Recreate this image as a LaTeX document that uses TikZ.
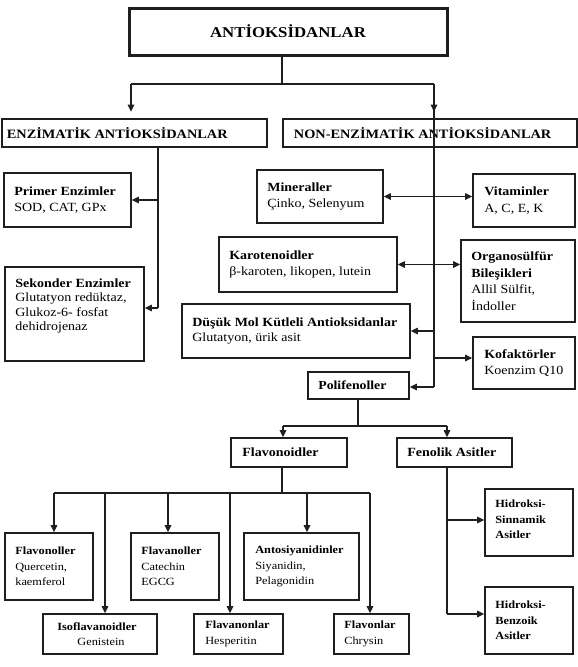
\documentclass[tikz,border=0pt]{standalone}
\usepackage{fontspec}
\setmainfont{Liberation Serif}[FakeStretch=1.12]
\usetikzlibrary{arrows.meta}
\newcommand\mybox[6][]{%
  \pgfmathsetmacro\bw{#5-#3}\pgfmathsetmacro\bh{#6-#4}%
  \node[box,#1,minimum width=\bw pt,minimum height=\bh pt] (#2) at ({(#3+#5)/2},{(#4+#6)/2}) {};}
\tikzset{
  box/.style={draw=black!88, line width=1.7pt, inner sep=0pt},
  heavybox/.style={line width=3pt},
  headbox/.style={line width=2.6pt},
  txt/.style={align=left, inner sep=0pt, font=\fontsize{12.5}{16.5}\selectfont},
  small/.style={font=\fontsize{11}{15.5}\selectfont},
  ln/.style={draw=black!88, line width=1.2pt},
  arr/.style={ln, -{Triangle[length=7pt,width=6.5pt]}},
  darr/.style={ln, {Triangle[length=7pt,width=6.5pt]}-{Triangle[length=7pt,width=6.5pt]}},
}
\begin{document}
\begin{tikzpicture}[x=1pt,y=-1pt]
\useasboundingbox (0,0) rectangle (578,667);
% ---- boxes ----
\mybox[heavybox]{title}{129}{8}{447}{55}
\mybox[headbox]{enz}{2}{119}{267}{147}
\mybox[headbox]{nonenz}{283}{119}{577}{147}
\mybox{primer}{4}{173}{131}{227}
\mybox{sekonder}{5}{267}{144}{361}
\mybox{mineral}{257}{170}{383}{223}
\mybox{vitamin}{473}{174}{575}{227}
\mybox{karot}{219}{237}{397}{292}
\mybox{organo}{461}{240}{575}{322}
\mybox{dusuk}{182}{304}{410}{358}
\mybox{kofak}{473}{337}{575}{389}
\mybox{polif}{308}{372}{409}{399}
\mybox{flavd}{231}{438}{347}{467}
\mybox{fenol}{397}{438}{512}{467}
\mybox{flavonol}{5}{533}{93}{600}
\mybox{isofl}{43}{614}{157}{654}
\mybox{flavanol}{131}{533}{219}{600}
\mybox{flavanon}{194}{614}{283}{654}
\mybox{antosi}{244}{533}{359}{600}
\mybox{flavon}{334}{614}{409}{654}
\mybox{hidS}{485}{489}{573}{556}
\mybox{hidB}{485}{587}{573}{654}
% ---- texts ----
\node[txt, font=\fontsize{15}{18}\selectfont\bfseries] (title-t) at (title) {ANTİOKSİDANLAR};
\node[txt, anchor=west, font=\fontsize{12.8}{16}\selectfont\bfseries] (enz-t) at ([xshift=6pt]enz.west) {ENZİMATİK ANTİOKSİDANLAR};
\node[txt, anchor=west, font=\fontsize{12.8}{16}\selectfont\bfseries] (nonenz-t) at ([xshift=12pt]nonenz.west) {NON-ENZİMATİK ANTİOKSİDANLAR};
\node[txt, anchor=west] (primer-t) at ([xshift=11pt]primer.west) {\textbf{Primer Enzimler}\\SOD, CAT, GPx};
\node[txt, anchor=west, font=\fontsize{12.5}{14.3}\selectfont] (sekonder-t) at ([xshift=11pt,yshift=8pt]sekonder.west) {\textbf{Sekonder Enzimler}\\Glutatyon redüktaz,\\Glukoz-6- fosfat\\dehidrojenaz};
\node[txt, anchor=west] (mineral-t) at ([xshift=11pt]mineral.west) {\textbf{Mineraller}\\Çinko, Selenyum};
\node[txt, anchor=west] (vitamin-t) at ([xshift=12pt]vitamin.west) {\textbf{Vitaminler}\\A, C, E, K};
\node[txt, anchor=west] (karot-t) at ([xshift=11pt]karot.west) {\textbf{Karotenoidler}\\β-karoten, likopen, lutein};
\node[txt, anchor=west] (organo-t) at ([xshift=11pt]organo.west) {\textbf{Organosülfür}\\\textbf{Bileşikleri}\\Allil Sülfit,\\İndoller};
\node[txt, anchor=west, font=\fontsize{12.5}{15.3}\selectfont] (dusuk-t) at ([xshift=11pt]dusuk.west) {\textbf{Düşük Mol Kütleli Antioksidanlar}\\Glutatyon, ürik asit};
\node[txt, anchor=west] (kofak-t) at ([xshift=12pt]kofak.west) {\textbf{Kofaktörler}\\Koenzim Q10};
\node[txt, anchor=west, font=\fontsize{12.3}{15}\selectfont\bfseries] (polif-t) at ([xshift=11pt]polif.west) {Polifenoller};
\node[txt, anchor=west, font=\fontsize{12.5}{15}\selectfont\bfseries] (flavd-t) at ([xshift=12pt]flavd.west) {Flavonoidler};
\node[txt, anchor=west, font=\fontsize{12.5}{15}\selectfont\bfseries] (fenol-t) at ([xshift=11pt]fenol.west) {Fenolik Asitler};
\node[txt, small, anchor=west] (flavonol-t) at ([xshift=11pt]flavonol.west) {\textbf{Flavonoller}\\Quercetin,\\kaemferol};
\node[txt, small, align=center] (isofl-t) at ([xshift=-3pt]isofl.center) {\textbf{Isoflavanoidler}\\\hspace*{8pt}Genistein};
\node[txt, small, anchor=west] (flavanol-t) at ([xshift=11pt]flavanol.west) {\textbf{Flavanoller}\\Catechin\\EGCG};
\node[txt, small, anchor=west] (flavanon-t) at ([xshift=12pt]flavanon.west) {\textbf{Flavanonlar}\\Hesperitin};
\node[txt, small, anchor=west] (antosi-t) at ([xshift=12pt]antosi.west) {\textbf{Antosiyanidinler}\\Siyanidin,\\Pelagonidin};
\node[txt, small, anchor=west] (flavon-t) at ([xshift=11pt]flavon.west) {\textbf{Flavonlar}\\Chrysin};
\node[txt, small, anchor=west] (hidS-t) at ([xshift=11pt,yshift=3pt]hidS.west) {\textbf{Hidroksi-}\\\textbf{Sinnamik}\\\textbf{Asitler}};
\node[txt, small, anchor=west] (hidB-t) at ([xshift=11pt]hidB.west) {\textbf{Hidroksi-}\\\textbf{Benzoik}\\\textbf{Asitler}};
% ---- connectors ----
\coordinate (t0) at (282,84);
\coordinate (tl) at (131,84);
\coordinate (tr) at (434,84);
\coordinate (nb) at (434,387);
\coordinate (k1) at (434,358);
\draw[ln] (t0 |- title.south) -- (t0);
\draw[ln] (tl) -- (tr);
\draw[arr, shorten >=6pt] (tl) -- (tl |- enz.north);
\draw[arr, shorten >=6pt] (tr) -- (tr |- nonenz.north);
\draw[ln] (tr) -- (nb);
% enzimatik
\coordinate (eb) at (158,308);
\draw[ln] (eb |- enz.south) -- (eb);
\draw[arr] (eb |- primer.east) -- (primer.east);
\draw[arr] (eb) -- (eb -| sekonder.east);
% non-enzimatik
\draw[darr] (mineral.east) -- (mineral.east -| vitamin.west);
\draw[darr] (karot.east) -- (karot.east -| organo.west);
\draw[arr] (dusuk.east -| nb) -- (dusuk.east);
\draw[arr] (k1) -- (k1 -| kofak.west);
\draw[arr] (nb) -- (nb -| polif.east);
% polifenoller
\coordinate (p0) at (358,426);
\coordinate (pl) at (283,426);
\coordinate (pr) at (447,426);
\draw[ln] (p0 |- polif.south) -- (p0);
\draw[ln] (pl) -- (pr);
\draw[arr] (pl) -- (pl |- flavd.north);
\draw[arr] (pr) -- (pr |- fenol.north);
% flavonoidler
\coordinate (f0) at (282,493);
\coordinate (c1) at (54,493);
\coordinate (c2) at (105,493);
\coordinate (c3) at (168,493);
\coordinate (c4) at (230,493);
\coordinate (c5) at (307,493);
\coordinate (c6) at (370,493);
\draw[ln] (f0 |- flavd.south) -- (f0);
\draw[ln] (c1) -- (c6);
\draw[arr] (c1) -- (c1 |- flavonol.north);
\draw[arr] (c2) -- (c2 |- isofl.north);
\draw[arr] (c3) -- (c3 |- flavanol.north);
\draw[arr] (c4) -- (c4 |- flavanon.north);
\draw[arr] (c5) -- (c5 |- antosi.north);
\draw[arr] (c6) -- (c6 |- flavon.north);
% fenolik
\coordinate (g1) at (447,520);
\coordinate (g2) at (447,614);
\draw[ln] (g2 |- fenol.south) -- (g2);
\draw[arr] (g1) -- (g1 -| hidS.west);
\draw[arr] (g2) -- (g2 -| hidB.west);
\end{tikzpicture}
\end{document}
